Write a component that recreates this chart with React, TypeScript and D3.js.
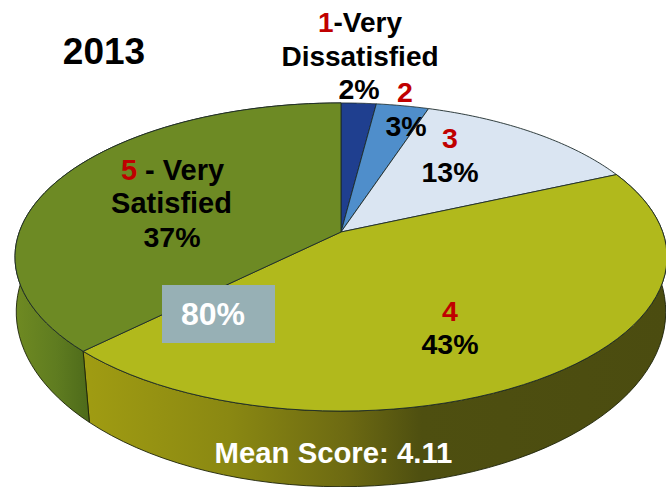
import { useMemo } from 'react';
import * as d3 from 'd3';

const categories = ['1', '2', '3', '4', '5'];
const percents = [2, 3, 13, 43, 37];
// unrounded shares as read from the slice edges, the labels above are rounded
const shares = [2, 3, 13, 43.5, 36.8];
const topColors = ['#1f3f8f', '#4f8ecb', '#dae5f2', '#b1b91c', '#6d8a24'];
const rimStops = [
  [],
  [],
  [],
  [['0%', '#a09c12'], ['25%', '#8a8812'], ['45%', '#6d6a12'], ['58%', '#4e4f10'], ['100%', '#4b4c10']],
  [['0%', '#6f8a22'], ['55%', '#5f7c20'], ['100%', '#4d6a1a']],
];

const FONT = '"Liberation Sans", Arial, sans-serif';
const RED = '#c00000';

// tilted disc: circle on the table seen in perspective
const cx = 341;

function project(angle: number, y0: number, p: number, b: number, a: number): [number, number] {
  const u = Math.sin(angle);
  const v = -Math.cos(angle);
  const w = 1 - p * v;
  return [cx + (b * u) / w, y0 + (a * v) / w];
}

const topPoint = (angle: number) => project(angle, 232, 0.1623, 321.7, 150);
const bottomPoint = (angle: number) => project(angle, 289, 0.13, 322, 172);

function sampleAngles(a0: number, a1: number) {
  return d3.range(0, 61).map((i) => a0 + ((a1 - a0) * i) / 60);
}

function Label({ x, y, size = 28.5, fill = '#000', children }: any) {
  return (
    <text x={x} y={y} fontSize={size} textAnchor="middle" fill={fill}>
      {children}
    </text>
  );
}

export default function App() {
  const slices = useMemo(() => d3.pie<number>().sort(null)(shares), []);
  const line = d3.line();

  return (
    <svg width={666} height={487} style={{ position: 'absolute', left: 0, top: 0 }} fontFamily={FONT} fontWeight="bold">
      <defs>
        {slices.map((s, i) =>
          rimStops[i].length ? (
            <linearGradient
              key={i}
              id={`rim${i}`}
              gradientUnits="userSpaceOnUse"
              x1={i === 3 ? 84 : 15}
              x2={i === 3 ? 666 : 90}
              y1={0}
              y2={0}
            >
              {rimStops[i].map(([o, c]) => (
                <stop key={o} offset={o} stopColor={c} />
              ))}
            </linearGradient>
          ) : null
        )}
      </defs>

      {/* rim */}
      {slices.map((s, i) => {
        if (!rimStops[i].length) return null;
        const angles = sampleAngles(s.startAngle, s.endAngle);
        const pts = [...angles.map(topPoint), ...angles.slice().reverse().map(bottomPoint)];
        return <path key={i} d={line(pts) + 'Z'} fill={`url(#rim${i})`} stroke="#1c2208" strokeWidth={0.9} />;
      })}

      {/* top face */}
      {slices.map((s, i) => {
        const pts = [[cx, 232] as [number, number], ...sampleAngles(s.startAngle, s.endAngle).map(topPoint)];
        return <path key={i} d={line(pts) + 'Z'} fill={topColors[i]} stroke="#1c2a2a" strokeWidth={0.9} />;
      })}

      <Label x={104} y={64} size={37}>2013</Label>

      <Label x={360} y={32} size={28}>
        <tspan fill={RED}>{categories[0]}</tspan>-Very
      </Label>
      <Label x={360} y={66} size={28}>Dissatisfied</Label>
      <Label x={359} y={99}>{percents[0]}%</Label>

      <Label x={405} y={102} fill={RED}>{categories[1]}</Label>
      <Label x={406} y={136}>{percents[1]}%</Label>

      <Label x={450} y={148} fill={RED}>{categories[2]}</Label>
      <Label x={450} y={182}>{percents[2]}%</Label>

      <Label x={450} y={321} fill={RED}>{categories[3]}</Label>
      <Label x={450} y={354}>{percents[3]}%</Label>

      <Label x={172.5} y={180} size={29}>
        <tspan fill={RED}>{categories[4]}</tspan> - Very
      </Label>
      <Label x={171.5} y={213} size={29}>Satisfied</Label>
      <Label x={172} y={247}>{percents[4]}%</Label>

      <rect x={162} y={285} width={113} height={58} fill="#97b0b5" />
      <Label x={213} y={325} size={32} fill="#fff">80%</Label>

      <Label x={333.5} y={463} size={29.3} fill="#fff">Mean Score: 4.11</Label>
    </svg>
  );
}
